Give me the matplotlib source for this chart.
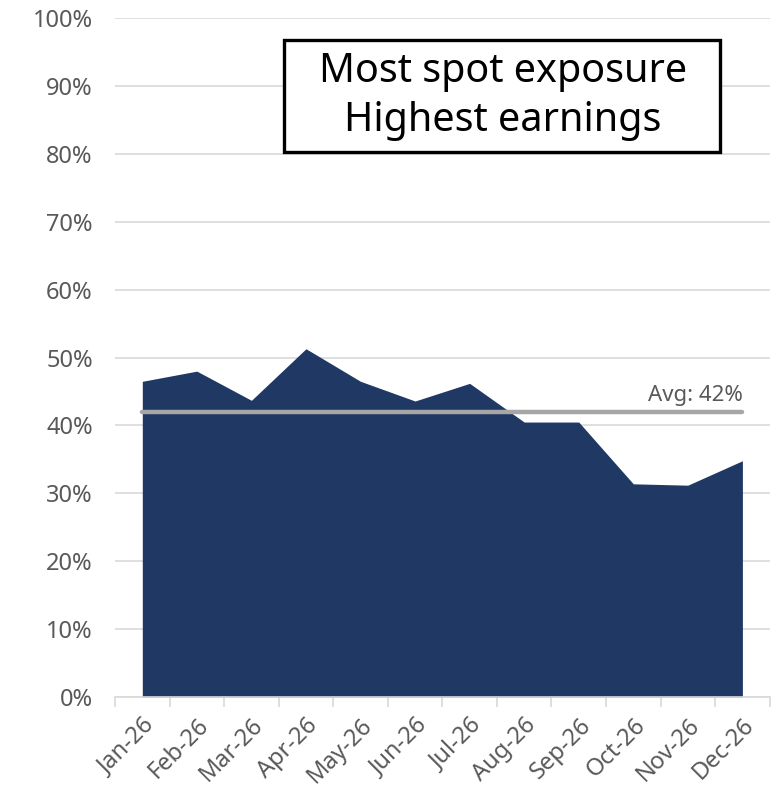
import numpy as np
import matplotlib
matplotlib.use("Agg")
import matplotlib.pyplot as plt
from matplotlib.patches import Rectangle
from matplotlib.ticker import FuncFormatter, FixedLocator

months = ["Jan-26", "Feb-26", "Mar-26", "Apr-26", "May-26", "Jun-26",
          "Jul-26", "Aug-26", "Sep-26", "Oct-26", "Nov-26", "Dec-26"]
spot_share = [46.5, 48.0, 43.7, 51.3, 46.5, 43.6, 46.2, 40.5, 40.5, 31.4, 31.2, 34.8]
box_lines = ["Most spot exposure", "Highest earnings"]

navy = "#203864"
grey_txt = "#595959"
grid_col = "#d9d9d9"
avg_col = "#a6a6a6"

plt.rcParams["font.family"] = ["Noto Sans", "DejaVu Sans"]

x = np.arange(len(months))
avg = float(np.mean(spot_share))

fig = plt.figure(figsize=(7.72, 7.88), dpi=100)
ax = fig.add_axes([0.149, 0.1155, 0.848, 0.8615])

ax.fill_between(x, 0, spot_share, color=navy, linewidth=0, zorder=2)
ax.plot([x[0], x[-1]], [avg, avg], color=avg_col, lw=3.2, solid_capstyle="round", zorder=3)
ax.text(x[-1], avg + 0.9, f"Avg: {avg:.0f}%", ha="right", va="bottom",
        fontsize=16, color=grey_txt, zorder=4)

ax.set_xlim(-0.5, len(months) - 0.5)
ax.set_ylim(0, 100)
ax.set_yticks(np.arange(0, 101, 10))
ax.yaxis.set_major_formatter(FuncFormatter(lambda v, p: f"{v:.0f}%"))
ax.tick_params(axis="y", length=0, pad=16, labelsize=17, labelcolor=grey_txt)
ax.grid(axis="y", color=grid_col, lw=1.2, zorder=0)
ax.set_axisbelow(True)

# boundary ticks as major, month labels as minor
ax.xaxis.set_major_locator(FixedLocator(np.arange(-0.5, len(months), 1.0)))
ax.xaxis.set_major_formatter(FuncFormatter(lambda v, p: ""))
ax.xaxis.set_minor_locator(FixedLocator(x))
ax.set_xticklabels(months, minor=True, rotation=45, ha="right",
                   rotation_mode="anchor", fontsize=17, color=grey_txt)
ax.tick_params(axis="x", which="major", length=7, width=1.2, color=grid_col, direction="out")
ax.tick_params(axis="x", which="minor", length=0, pad=12)

for s in ["top", "right", "left"]:
    ax.spines[s].set_visible(False)
ax.spines["bottom"].set_color(grid_col)
ax.spines["bottom"].set_linewidth(1.2)

ax.add_patch(Rectangle((0.258, 0.8027), 0.666, 0.165, transform=ax.transAxes,
                       facecolor="white", edgecolor="black", lw=2.4, zorder=5))
ax.text(0.592, 0.885, "\n".join(box_lines), transform=ax.transAxes, ha="center",
        va="center", fontsize=28.5, color="black", linespacing=1.3, zorder=6)

fig.savefig("out.png", dpi=100)
